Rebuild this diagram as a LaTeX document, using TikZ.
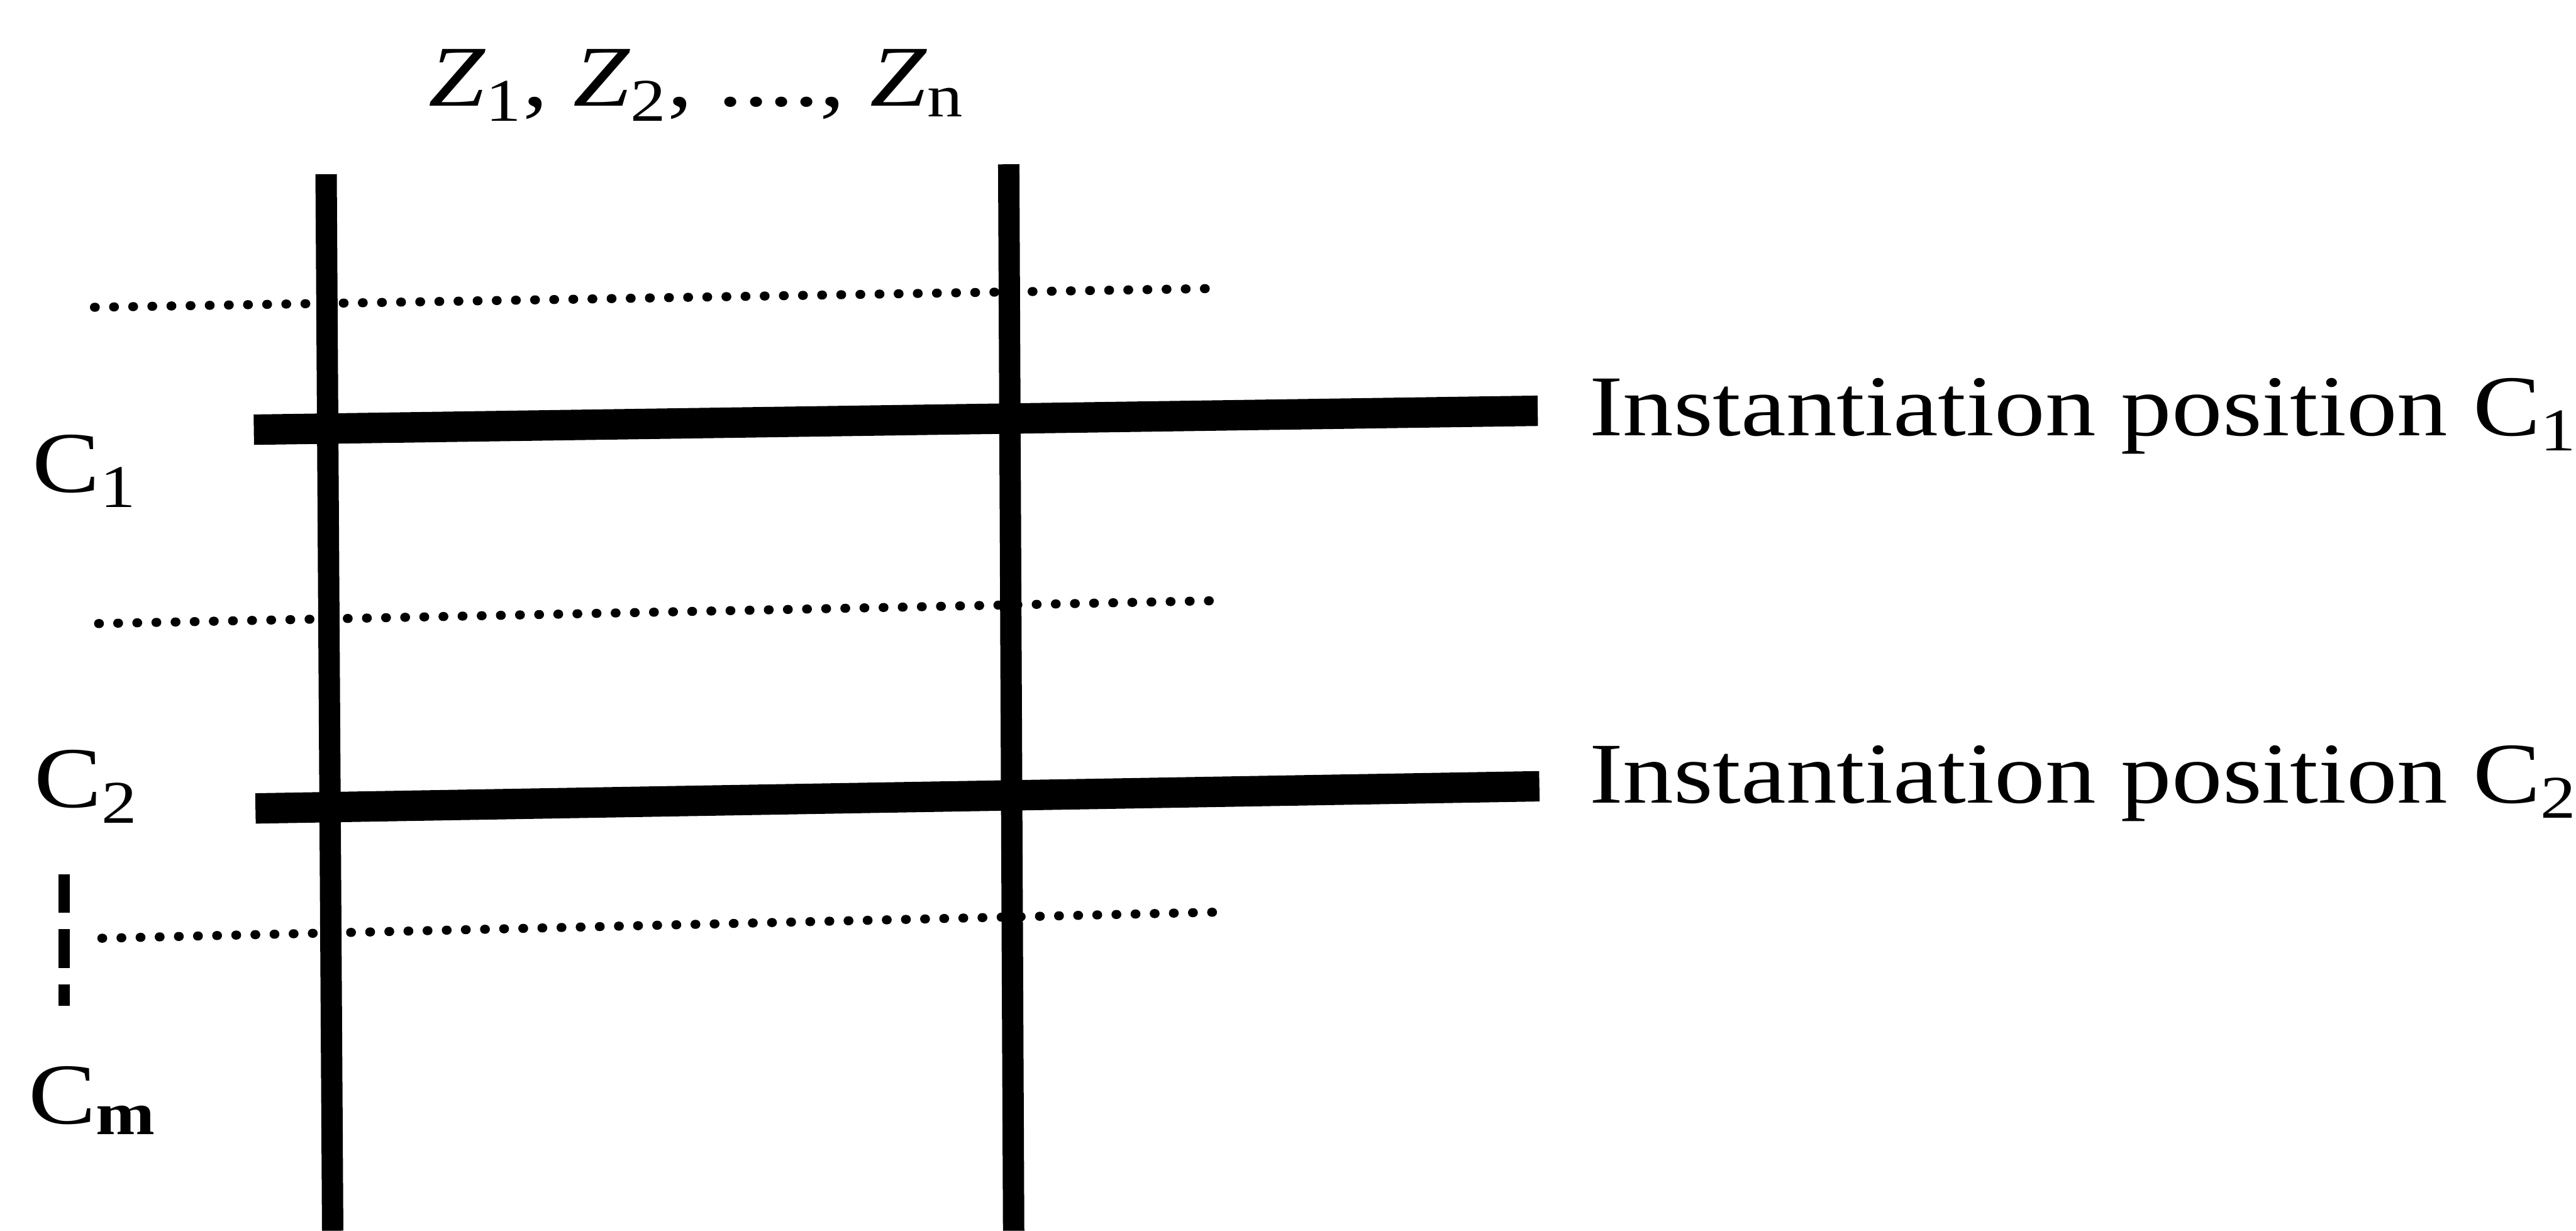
\documentclass[tikz,border=0pt]{standalone}
\usepackage{fontspec}
\setmainfont{Liberation Serif}[FakeStretch=1.17]
\usepackage{tikz}
\usetikzlibrary{positioning, calc}
\newcommand{\lblfont}{\fontsize{30}{36}\selectfont}
\tikzset{
    zline/.style={draw=black, line width=0.26cm},
    instline/.style={draw=black, line width=0.37cm},
    dotline/.style={
        draw=black,
        line width=0.11cm,
        line cap=round,
        dash pattern=on 0.01cm off 0.223cm
    },
    gapline/.style={draw=black, line width=0.14cm, dash pattern=on 0.47cm off 0.2cm},
    lbl/.style={anchor=base west, inner sep=0pt, font=\lblfont}
}

\begin{document}
\begin{tikzpicture}

\useasboundingbox (0,0) rectangle (31.36,14.98);

% Title
\node[lbl, anchor=base] (title) at (8.48,13.69) {\textit{Z}\textsubscript{1}, \textit{Z}\textsubscript{2}, ...., \textit{Z}\textsubscript{n}};

% --- Z columns ---
\coordinate (z1top) at (3.97,12.86);
\coordinate (z1bot) at (4.05,0);
\coordinate (zntop) at (12.28,12.98);
\coordinate (znbot) at (12.34,0);

\draw[zline] (z1top) -- (z1bot);
\draw[zline] (zntop) -- (znbot);

% --- Dotted rows ---
\coordinate (d1a) at (1.15,11.24);
\coordinate (d1b) at (14.86,11.47);
\coordinate (d2a) at (1.20,7.39);
\coordinate (d2b) at (14.86,7.67);
\coordinate (d3a) at (1.24,3.56);
\coordinate (d3b) at (14.90,3.88);

\draw[dotline] (d1a) -- (d1b);
\draw[dotline] (d2a) -- (d2b);
\draw[dotline] (d3a) -- (d3b);

% --- Row labels ---
\node[lbl] (c1lbl) at (0.39,8.99) {C\textsubscript{1}};
\node[lbl] (c2lbl) at (0.41,5.15) {C\textsubscript{2}};
\node[lbl] (cmlbl) at (0.34,1.30) {C\textsubscript{\textbf{m}}};

% C2 ... Cm
\coordinate (gaptop) at (0.78,4.34);
\coordinate (gapbot) at (0.78,2.74);
\draw[gapline] (gaptop) -- (gapbot);

% --- Instantiation rows ---
\node[lbl] (pos1) at (19.34,9.68) {Instantiation position C\textsubscript{1}};
\node[lbl] (pos2) at (19.34,5.21) {Instantiation position C\textsubscript{2}};

\coordinate (c1a) at (3.09,9.75);
\coordinate (c1b) at (18.72,9.98);
\coordinate (c2a) at (3.11,5.14);
\coordinate (c2b) at (18.74,5.41);

\draw[instline] (c1a) -- (c1b);
\draw[instline] (c2a) -- (c2b);

\end{tikzpicture}
\end{document}
